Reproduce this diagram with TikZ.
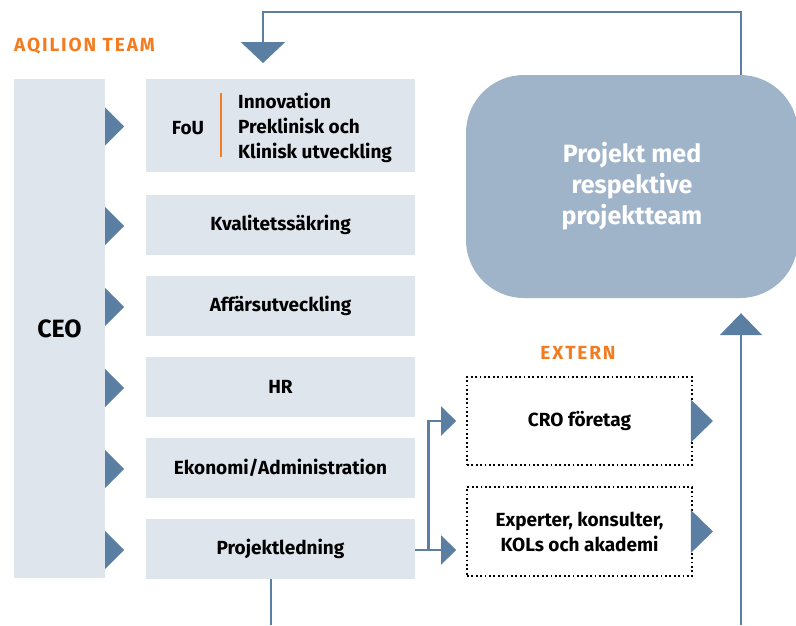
\documentclass[tikz,border=0pt]{standalone}
\usepackage{fontspec}
\setmainfont{Fira Sans}
\usepackage{xcolor}
\usepackage{tikz}
\usetikzlibrary{positioning,arrows.meta}

\definecolor{boxgray}{HTML}{DFE5ED}
\definecolor{arrowblue}{HTML}{5A7FA3}
\definecolor{projblue}{HTML}{A0B4C9}
\definecolor{teamorange}{HTML}{F47C20}

\begin{document}
\begin{tikzpicture}[x=1pt, y=-1pt,
    every node/.style={font=\bfseries\fontsize{19}{25}\selectfont},
    unit/.style={fill=boxgray, minimum width=269pt, minimum height=60pt},
    extern/.style={draw=black, line width=1.8pt, dash pattern=on 1.8pt off 2.6pt, minimum width=225pt, minimum height=88pt, align=center},
    conn/.style={draw=arrowblue, line width=2.8pt},
    heading/.style={text=teamorange, font=\bfseries\fontsize{19}{20}\selectfont\addfontfeatures{LetterSpace=10}}]
    \useasboundingbox (0,0) rectangle (796,625);

    % Headings
    \node[heading, anchor=west, inner sep=0pt] (team) at (14,46) {AQILION TEAM};
    \node[heading] (ext) at (578,353) {EXTERN};

    % CEO column
    \node[fill=boxgray, minimum width=91pt, minimum height=499pt] (ceo) at (59.5,328.5) {\fontsize{25}{25}\selectfont CEO};

    % Team units
    \node[unit, minimum height=93pt] (fou) at (280.5,125.5) {};
    \node (foulbl) at (188,128) {FoU};
    \draw[teamorange, line width=2.5pt] (221,93) -- (221,157);
    \node[anchor=west, align=left, inner sep=0pt] (fouitems) at (238,128) {Innovation\\Preklinisk och\\Klinisk utveckling};
    \node[unit] (kval) at (280.5,225) {Kvalitetssäkring};
    \node[unit] (aff) at (280.5,306) {Affärsutveckling};
    \node[unit] (hr) at (280.5,387) {HR};
    \node[unit] (ekon) at (280.5,468) {Ekonomi/Administration};
    \node[unit] (pl) at (280.5,549) {Projektledning};

    % CEO -> units
    \foreach \i in {fou,kval,aff,hr,ekon,pl}{
        \fill[arrowblue] ([yshift=-1pt]ceo.east |- \i.west) ++(0,-19) -- ++(19,19) -- ++(-19,19) -- cycle;
    }

    % Projects
    \node[fill=projblue, rounded corners=58pt, minimum width=332pt, minimum height=223pt, text=white, align=center,
          font=\bfseries\fontsize{25}{31}\selectfont] (proj) at (632,186.5) {Projekt med\\respektive\\projektteam};

    % External partners
    \node[extern] (cro) at (579.5,421) {CRO företag};
    \node[extern, minimum height=89pt] (exp) at (579.5,531.5) {Experter, konsulter,\\KOLs och akademi};
    \foreach \i in {cro,exp}{
        \fill[arrowblue] ([xshift=-2pt]\i.east) ++(0,-21.5) -- ++(22,21.5) -- ++(-22,21.5) -- cycle;
    }

    % Projektledning -> external
    \draw[conn, -{Triangle[length=15pt,width=29pt]}, shorten >=10pt] ([yshift=-1pt]pl.east) -- ([yshift=-1pt]pl.east -| exp.west);
    \draw[conn, -{Triangle[length=15pt,width=29pt]}, shorten >=10pt] ([xshift=13pt,yshift=-1pt]pl.east) |- (cro.west);

    % Feedback loop
    \coordinate (fbtop) at (741,12);
    \coordinate (fbin) at (263,63);
    \coordinate (fbbot) at (741,625);
    \coordinate (plout) at (271,625);
    \draw[conn, -{Triangle[length=21pt,width=44pt]}] (proj.north -| fbtop) -- (fbtop) -| (fbin);
    \draw[conn, -{Triangle[length=22pt,width=42pt]}, shorten >=15pt] (fbbot) -- (proj.south -| fbbot);
    \draw[conn] (pl.south -| plout) -- (plout);
\end{tikzpicture}
\end{document}
